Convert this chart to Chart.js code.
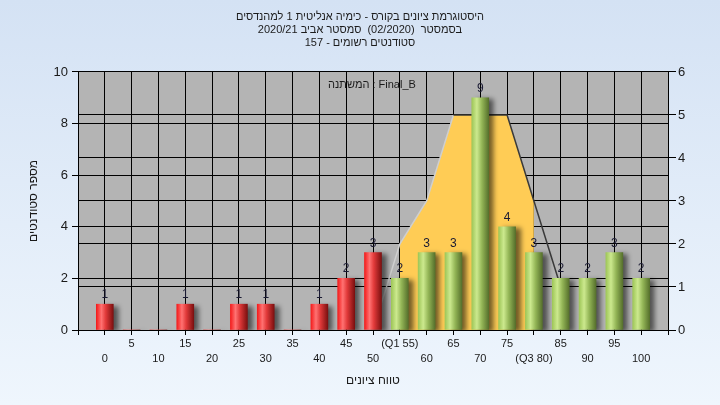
<!DOCTYPE html>
<html lang="he">
<head>
<meta charset="utf-8">
<script src="https://cdn.jsdelivr.net/npm/chart.js@4.4.1/dist/chart.umd.min.js"></script>
<style>
  html, body { margin: 0; padding: 0; }
  #wrap { width: 720px; height: 405px; }
  canvas { direction: rtl; }
</style>
</head>
<body>
<div id="wrap"><canvas id="histogram" dir="rtl"></canvas></div>
<script>
// data
var grades = [0, 5, 10, 15, 20, 25, 30, 35, 40, 45, 50, 55, 60, 65, 70, 75, 80, 85, 90, 95, 100];
var counts = [1, 0, 0, 1, 0, 1, 1, 0, 1, 2, 3, 2, 3, 3, 9, 4, 3, 2, 2, 3, 2];
var curveGrades = [50, 55, 60, 65, 70, 75, 80, 85];
var curveValues = [0, 2, 3, 5, 5, 5, 3, 1];
var q1 = 55;
var q3 = 80;
var passGrade = 55;
var leftTicks = [0, 2, 4, 6, 8, 10];
var rightTicks = [0, 1, 2, 3, 4, 5, 6];

var titleLines = [
  'היסטוגרמת ציונים בקורס - כימיה אנליטית 1 למהנדסים',
  'בסמסטר  (02/2020)  סמסטר אביב 2020/21',
  'סטודנטים רשומים - 157'
];
var variableLabel = 'Final_B : המשתנה';
var xTitle = 'טווח ציונים';
var yTitle = 'מספר סטודנטים';

var fontFamily = 'Arial, "Liberation Sans", "DejaVu Sans", sans-serif';
Chart.defaults.font.family = fontFamily;

var barPoints = grades.map(function(g, i) { return {x: g, y: counts[i]}; });
var curvePoints = curveGrades.map(function(g, i) { return {x: g, y: curveValues[i]}; });
var iqrPoints = curvePoints.filter(function(p) { return p.x >= q1 && p.x <= q3; });

/* cylinder look for the bars */
var barFill = function(c) {
  var raw = c.raw;
  var failed = raw && raw.x < passGrade;
  var flat = failed ? '#e82020' : '#a0c860';
  var xs = c.chart.scales.x;
  if (!raw || !xs) return flat;
  var px = xs.getPixelForValue(raw.x);
  if (!isFinite(px)) return flat;
  var g = c.chart.ctx.createLinearGradient(px - 8.5, 0, px + 8.5, 0);
  if (failed) {
    g.addColorStop(0, '#f41c1c');
    g.addColorStop(0.3, '#ff7272');
    g.addColorStop(0.55, '#e23a3a');
    g.addColorStop(1, '#7c1010');
  } else {
    g.addColorStop(0, '#9ec658');
    g.addColorStop(0.3, '#cce98e');
    g.addColorStop(0.6, '#93b556');
    g.addColorStop(1, '#56702c');
  }
  return g;
};

var backgroundPlugin = {
  id: 'background',
  beforeDraw: function(chart) {
    var ctx = chart.ctx, a = chart.chartArea;
    var g = ctx.createLinearGradient(0, 0, 0, chart.height);
    g.addColorStop(0, '#d4e2f4');
    g.addColorStop(1, '#eff6fd');
    ctx.save();
    ctx.fillStyle = g;
    ctx.fillRect(0, 0, chart.width, chart.height);
    ctx.fillStyle = '#b4b4b4';
    ctx.fillRect(a.left, a.top, a.right - a.left, a.bottom - a.top);
    ctx.restore();
  }
};

var shadowPlugin = {
  id: 'barShadow',
  beforeDatasetDraw: function(chart, args) {
    if (args.meta.type !== 'bar') return;
    var ctx = chart.ctx;
    ctx.save();
    ctx.shadowColor = 'rgba(0,0,0,0.55)';
    ctx.shadowBlur = 5;
    ctx.shadowOffsetX = 5;
    ctx.shadowOffsetY = 2;
  },
  afterDatasetDraw: function(chart, args) {
    if (args.meta.type !== 'bar') return;
    chart.ctx.restore();
  }
};

var labelsPlugin = {
  id: 'barLabels',
  afterDatasetsDraw: function(chart) {
    var ctx = chart.ctx, a = chart.chartArea;
    var meta = chart.getDatasetMeta(0);
    ctx.save();
    ctx.font = '12px ' + fontFamily;
    ctx.fillStyle = '#1a1a33';
    ctx.textAlign = 'center';
    ctx.textBaseline = 'alphabetic';
    meta.data.forEach(function(bar, i) {
      if (!counts[i]) return;
      ctx.fillText(String(counts[i]), bar.x, bar.y - 6);
    });
    ctx.font = '11px ' + fontFamily;
    ctx.fillStyle = '#1a1a1a';
    ctx.textBaseline = 'middle';
    ctx.fillText(variableLabel, (a.left + a.right) / 2 - 1, a.top + 13);
    ctx.restore();
  }
};

var xLabel = function(v) {
  if (v < grades[0] || v > grades[grades.length - 1]) return '';
  var text = v === q1 ? '(Q' + '1 ' + v + ')' : v === q3 ? '(Q' + '3 ' + v + ')' : String(v);
  return (v / 5) % 2 === 1 ? [text] : ['', text];
};

new Chart(document.getElementById('histogram'), {
  type: 'bar',
  data: {
    datasets: [{
      type: 'bar',
      data: barPoints,
      xAxisID: 'x',
      yAxisID: 'y',
      backgroundColor: barFill,
      borderWidth: 0,
      barThickness: 17,
      order: 0
    }, {
      type: 'line',
      data: curvePoints,
      xAxisID: 'x',
      yAxisID: 'y2',
      fill: false,
      tension: 0,
      pointRadius: 0,
      borderWidth: 1.5,
      borderColor: '#3a3a3a',
      segment: {
        borderColor: function(s) { return s.p1.parsed.y > s.p0.parsed.y ? '#cfcfcf' : '#3a3a3a'; }
      },
      order: 1
    }, {
      type: 'line',
      data: iqrPoints,
      xAxisID: 'x',
      yAxisID: 'y2',
      fill: 'origin',
      tension: 0,
      pointRadius: 0,
      borderWidth: 0,
      backgroundColor: '#ffcc55',
      order: 2
    }]
  },
  options: {
    responsive: true,
    maintainAspectRatio: false,
    animation: false,
    layout: { padding: 0 },
    plugins: {
      legend: { display: false },
      tooltip: { enabled: false },
      title: {
        display: true,
        text: titleLines,
        color: '#1c1c1c',
        font: { size: 11, weight: 'normal', lineHeight: 1.15 },
        padding: { top: 11, bottom: 23 }
      }
    },
    scales: {
      x: {
        type: 'linear',
        min: -5,
        max: 105,
        offset: false,
        grid: { color: '#000', lineWidth: 1, offset: false, tickLength: 5 },
        border: { color: '#000' },
        ticks: {
          stepSize: 5,
          autoSkip: false,
          maxRotation: 0,
          minRotation: 0,
          padding: 1,
          color: '#1a1a1a',
          font: { size: 11, lineHeight: 1.4 },
          callback: xLabel
        },
        title: {
          display: true,
          text: xTitle,
          color: '#1a1a1a',
          font: { size: 12 },
          padding: { top: 0, bottom: 17 }
        },
        afterFit: function(s) { s.height = 75; }
      },
      y: {
        position: 'left',
        min: leftTicks[0],
        max: leftTicks[leftTicks.length - 1],
        grid: { color: '#000', lineWidth: 1, tickLength: 6 },
        border: { color: '#000' },
        ticks: { stepSize: leftTicks[1] - leftTicks[0], padding: 4, color: '#1a1a1a', font: { size: 13 } },
        title: {
          display: true,
          text: yTitle,
          color: '#1a1a1a',
          font: { size: 12 },
          padding: { top: 26, bottom: 0 }
        },
        afterFit: function(s) { s.width = 78; }
      },
      y2: {
        position: 'right',
        min: rightTicks[0],
        max: rightTicks[rightTicks.length - 1],
        grid: { color: '#000', lineWidth: 1, tickLength: 8 },
        border: { color: '#000' },
        ticks: { stepSize: rightTicks[1] - rightTicks[0], padding: 2, color: '#1a1a1a', font: { size: 13 } },
        afterFit: function(s) { s.width = 52; }
      }
    }
  },
  plugins: [backgroundPlugin, shadowPlugin, labelsPlugin]
});
</script>
</body>
</html>
